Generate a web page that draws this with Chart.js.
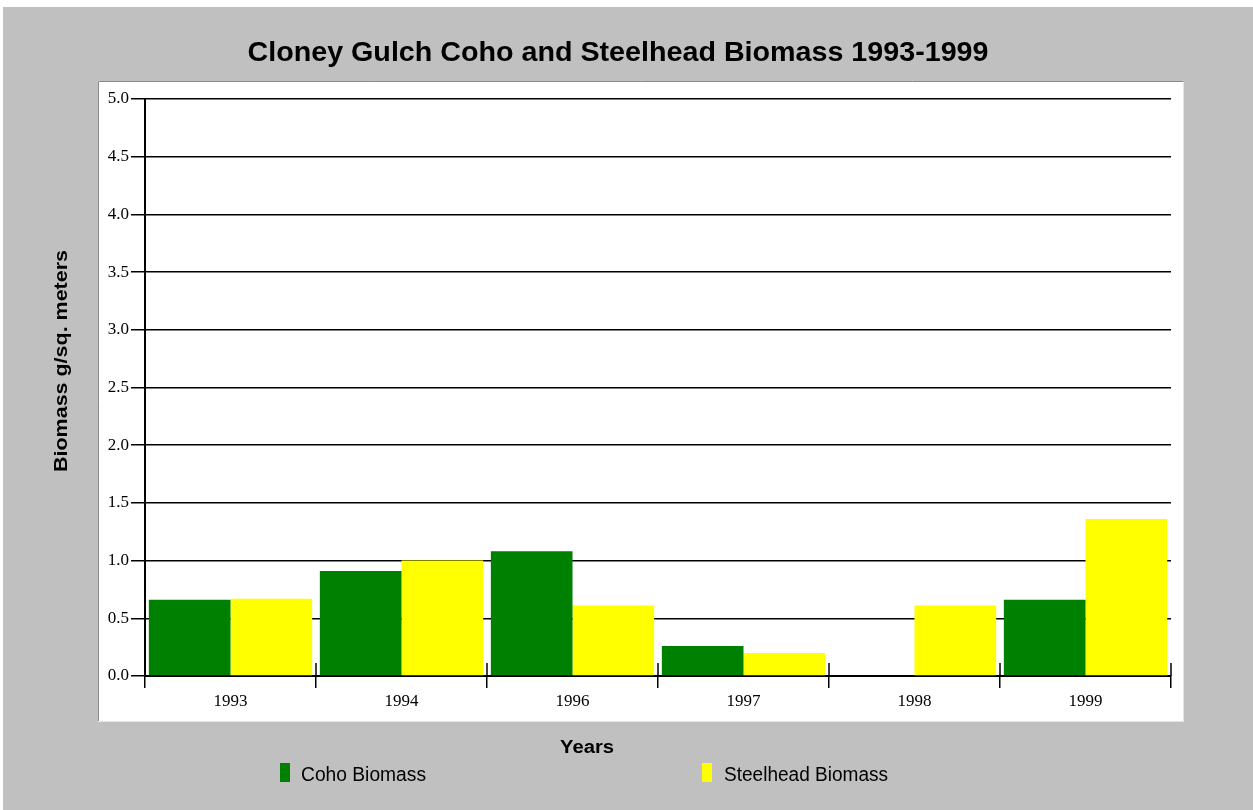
<!DOCTYPE html>
<html>
<head>
<meta charset="utf-8">
<script src="https://cdn.jsdelivr.net/npm/chart.js@4"></script>
<style>
  html, body { margin: 0; padding: 0; background: #fff; }
  canvas { display: block; }
</style>
</head>
<body>
<canvas id="biomassChart" width="1253" height="810"></canvas>
<script>
var years = ["1993", "1994", "1996", "1997", "1998", "1999"];
var cohoBiomass = [0.66, 0.91, 1.08, 0.26, 0, 0.66];
var steelheadBiomass = [0.67, 1.00, 0.61, 0.20, 0.61, 1.36];
var yMin = 0, yMax = 5, yStep = 0.5;

var chartTitle = "Cloney Gulch Coho and Steelhead Biomass 1993-1999";
var xTitle = "Years";
var yTitle = "Biomass g/sq. meters";

// text squeezed horizontally to the width seen in the picture
function fitText(ctx, text, x, y, font, width, rotate, align) {
    ctx.save();
    ctx.font = font;
    var w = ctx.measureText(text).width;
    ctx.translate(x, y);
    if (rotate) ctx.rotate(-Math.PI / 2);
    ctx.scale(width / w, 1);
    ctx.textAlign = align || "center";
    ctx.textBaseline = "alphabetic";
    ctx.fillStyle = "#000";
    ctx.fillText(text, 0, 0);
    ctx.restore();
}

var frame = {
    id: "frame",
    beforeDraw: function (chart) {
        var ctx = chart.ctx;
        ctx.save();
        ctx.fillStyle = "#fff";
        ctx.fillRect(0, 0, chart.width, chart.height);
        ctx.fillStyle = "#c0c0c0";
        ctx.fillRect(3, 7, chart.width - 3, chart.height - 7);
        ctx.fillStyle = "#fff";
        ctx.fillRect(98, 81, 1086, 641);
        ctx.strokeStyle = "#8a8a8a";
        ctx.lineWidth = 1;
        ctx.beginPath();
        ctx.moveTo(98.5, 721); ctx.lineTo(98.5, 81.5); ctx.lineTo(1184, 81.5);
        ctx.stroke();
        ctx.strokeStyle = "#e4e4e4";
        ctx.beginPath();
        ctx.moveTo(98.5, 721.5); ctx.lineTo(1183.5, 721.5); ctx.lineTo(1183.5, 81.5);
        ctx.stroke();
        ctx.restore();
    },
    afterDraw: function (chart) {
        var ctx = chart.ctx;
        var x = chart.scales.x;
        var area = chart.chartArea;
        // category boundary marks reach above the axis too
        ctx.save();
        ctx.strokeStyle = "#000";
        ctx.lineWidth = 1.5;
        for (var i = 0; i <= years.length; i++) {
            var px = Math.round(x.getPixelForValue(i - 0.5));
            ctx.beginPath();
            ctx.moveTo(px, area.bottom - 13);
            ctx.lineTo(px, area.bottom);
            ctx.stroke();
        }
        ctx.restore();

        fitText(ctx, chartTitle, 618, 61, "bold 28px 'Liberation Sans', Arial", 741);
        fitText(ctx, xTitle, 587, 753, "bold 18px 'Liberation Sans', Arial", 54);
        fitText(ctx, yTitle, 67, 361, "bold 19px 'Liberation Sans', Arial", 222, true);

        // legend
        var legendX = [280, 702];
        chart.data.datasets.forEach(function (ds, k) {
            ctx.save();
            ctx.fillStyle = ds.backgroundColor;
            ctx.fillRect(legendX[k], 763, 10, 19);
            ctx.restore();
        });
        fitText(ctx, chart.data.datasets[0].label, 301, 781, "20px 'Liberation Sans', Arial", 125, false, "left");
        fitText(ctx, chart.data.datasets[1].label, 724, 781, "20px 'Liberation Sans', Arial", 164, false, "left");
    }
};

var ctx = document.getElementById("biomassChart");

var biomassChart = new Chart(ctx, {
    type: "bar",
    data: {
        labels: years,
        datasets: [
            {
                label: "Coho Biomass",
                backgroundColor: "#008000",
                borderWidth: 0,
                data: cohoBiomass
            },
            {
                label: "Steelhead Biomass",
                backgroundColor: "#ffff00",
                borderWidth: 0,
                data: steelheadBiomass
            }
        ]
    },
    options: {
        responsive: false,
        animation: false,
        devicePixelRatio: 1,
        layout: {
            padding: { left: 97, top: 99, right: 82, bottom: 88 }
        },
        datasets: {
            bar: { categoryPercentage: 0.955, barPercentage: 1 }
        },
        plugins: {
            legend: { display: false },
            title: { display: false },
            tooltip: { enabled: false }
        },
        scales: {
            x: {
                grid: {
                    offset: true,
                    drawOnChartArea: false,
                    drawTicks: true,
                    tickLength: 12,
                    color: "#000",
                    lineWidth: 1.5
                },
                border: { display: true, color: "#000", width: 2 },
                ticks: {
                    color: "#000",
                    padding: 3,
                    font: { family: "'Liberation Serif', 'Times New Roman', serif", size: 17 }
                },
                afterFit: function (s) { s.height = 46; }
            },
            y: {
                min: yMin,
                max: yMax,
                grid: {
                    color: "#000",
                    lineWidth: 1.5,
                    drawTicks: true,
                    tickLength: 14
                },
                border: { display: true, color: "#000", width: 2 },
                ticks: {
                    stepSize: yStep,
                    color: "#000",
                    padding: 2,
                    font: { family: "'Liberation Serif', 'Times New Roman', serif", size: 17 },
                    callback: function (v) { return Number(v).toFixed(1); }
                },
                afterFit: function (s) { s.width = 48; }
            }
        }
    },
    plugins: [frame]
});
</script>
</body>
</html>
